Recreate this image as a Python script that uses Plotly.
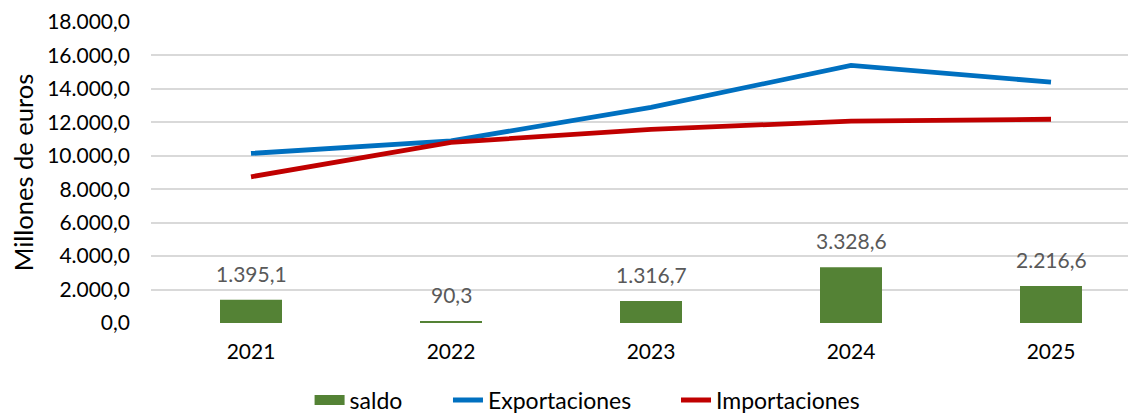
import plotly.graph_objects as go

years = ["2021", "2022", "2023", "2024", "2025"]
saldo = [1395.1, 90.3, 1316.7, 3328.6, 2216.6]
exportaciones = [10140, 10890, 12900, 15400, 14400]
importaciones = [8745, 10800, 11583, 12071, 12183]

def fmt(v):
    s = f"{v:,.1f}"
    return s.replace(",", "X").replace(".", ",").replace("X", ".")

FONT = "Lato, Carlito, Calibri, sans-serif"

fig = go.Figure()
fig.add_trace(go.Bar(x=years, y=saldo, name="saldo", marker_color="#548235",
                     width=0.31, marker_line_width=0, showlegend=False))
# legend entry for the bar series drawn as a wide block
fig.add_trace(go.Scatter(x=[None], y=[None], name="saldo", mode="lines",
                         line=dict(color="#548235", width=14), hoverinfo="skip",
                         legend="legend"))
fig.add_trace(go.Scatter(x=years, y=exportaciones, name="Exportaciones", mode="lines",
                         line=dict(color="#0070C0", width=4.8), legend="legend2"))
fig.add_trace(go.Scatter(x=years, y=importaciones, name="Importaciones", mode="lines",
                         line=dict(color="#C00000", width=4.8), legend="legend3"))

for i, v in enumerate(saldo):
    fig.add_annotation(x=i, y=v, xref="x", yref="y", text=fmt(v), showarrow=False,
                       yanchor="bottom", yshift=12,
                       font=dict(size=21, color="#595959", family=FONT))

leg_common = dict(orientation="h", y=-0.256, yanchor="middle", xanchor="left",
                  font=dict(size=23, color="#000000"), bgcolor="rgba(0,0,0,0)")

fig.update_layout(
    width=1128, height=408,
    margin=dict(l=143, r=0, t=14, b=93, autoexpand=False),
    paper_bgcolor="white", plot_bgcolor="white",
    separators=",.",
    font=dict(family=FONT, size=21, color="#000000"),
    showlegend=True,
    legend=dict(x=0.161, **leg_common),
    legend2=dict(x=0.3015, **leg_common),
    legend3=dict(x=0.533, **leg_common),
    bargap=0.69,
)
fig.update_xaxes(type="category", range=[-0.5, 4.425], showgrid=False, zeroline=False,
                 showline=False, ticks="", ticklabelstandoff=14, automargin=False,
                 tickfont=dict(size=21, color="#000000"))
fig.update_yaxes(range=[0, 18000], dtick=2000, tickformat=",.1f", showgrid=True,
                 gridcolor="#D9D9D9", gridwidth=1.5, zeroline=False, showline=False,
                 ticks="", ticklabelstandoff=20, automargin=False,
                 tickfont=dict(size=21, color="#000000"),
                 title=dict(text="Millones de euros", font=dict(size=25.5, color="#000000"),
                            standoff=12))

fig.write_html("out.html")
